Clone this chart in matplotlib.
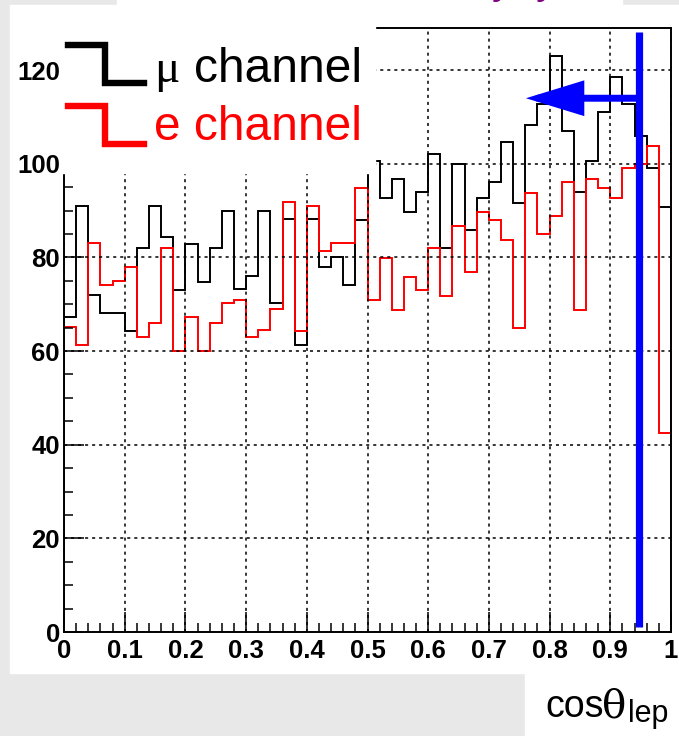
import numpy as np
import matplotlib.pyplot as plt
from matplotlib.lines import Line2D
from matplotlib.patches import Rectangle
from matplotlib.ticker import MultipleLocator

W, H = 679, 736

# cos(theta_lep) histograms, 50 bins between 0 and 1
edges = np.linspace(0, 1, 51)
mu_counts = [67.2, 91.0, 72.0, 68.2, 68.2, 64.3, 82.1, 91.0, 84.3, 73.1,
             82.9, 74.8, 82.1, 89.9, 73.3, 76.1, 89.9, 70.2, 88.2, 61.2,
             88.2, 77.9, 80.0, 74.1, 88.0, 100.6, 92.6, 96.8, 89.6, 94.0,
             102.1, 82.1, 100.0, 85.8, 92.6, 96.1, 104.6, 91.7, 108.2, 112.8,
             123.0, 106.9, 93.9, 100.7, 111.0, 118.6, 112.8, 106.0, 99.1, 90.8]
e_counts = [65.1, 61.3, 83.0, 74.1, 74.9, 77.9, 63.0, 66.0, 82.1, 60.1,
            67.2, 60.1, 66.0, 70.3, 71.0, 63.0, 64.4, 69.0, 91.9, 64.3,
            91.0, 81.4, 83.0, 83.0, 94.9, 71.0, 79.8, 68.8, 75.9, 73.0,
            82.1, 71.8, 86.7, 76.8, 89.6, 87.9, 83.7, 64.9, 93.8, 85.0,
            88.8, 96.1, 68.8, 96.8, 94.8, 92.7, 99.0, 100.0, 103.8, 42.6]

cut_value = 0.947
arrow_tip = 0.761
arrow_level = 114
legend_labels = ["channel", "e channel"]
xtick_labels = ["0", "0.1", "0.2", "0.3", "0.4", "0.5", "0.6", "0.7", "0.8", "0.9", "1"]


def fx(px):
    return px / W


def fy(py):
    return 1 - py / H


fig = plt.figure(figsize=(W / 100, H / 100), dpi=100, facecolor="#e8e8e8")

# slide panels
fig.add_artist(Rectangle((fx(10), fy(673)), fx(669), 668 / H, color="white", zorder=-2))
fig.add_artist(Rectangle((fx(117), fy(6)), fx(505), 6 / H, color="white", zorder=-2))
fig.add_artist(Rectangle((fx(525), fy(736)), fx(154), 63 / H, color="white", zorder=-2))
fig.text(fx(492), fy(-7), "y  y", color="#800080", fontsize=30,
         family="Liberation Sans", va="baseline")

ax = fig.add_axes([fx(64), fy(632), 607 / W, 604 / H])
ax.set_facecolor("white")

ax.stairs(mu_counts, edges, color="black", lw=1.4, baseline=0)
ax.stairs(e_counts, edges, color="red", lw=1.4, baseline=0)

ax.plot([cut_value, cut_value], [1.1, 128.2], color="blue", lw=5.2,
        solid_capstyle="butt", zorder=5)
ax.annotate("", xy=(arrow_tip, arrow_level), xytext=(cut_value, arrow_level),
            arrowprops=dict(arrowstyle="-|>,head_length=31,head_width=9.5",
                            mutation_scale=1, color="blue", lw=5,
                            shrinkA=0, shrinkB=0, joinstyle="miter"),
            zorder=5)

ax.set_xlim(0, 1)
ax.set_ylim(0, 129)
ax.xaxis.set_minor_locator(MultipleLocator(0.02))
ax.yaxis.set_major_locator(MultipleLocator(20))
ax.yaxis.set_minor_locator(MultipleLocator(5))
ax.set_xticks(np.arange(0, 1.01, 0.1))
ax.set_xticklabels(xtick_labels)
ax.tick_params(which="major", direction="in", length=14.5, width=1.1, color="black")
ax.tick_params(which="minor", direction="in", length=6.5, width=1.1, color="black")
ax.tick_params(axis="x", pad=5)
ax.tick_params(axis="y", pad=3)
for lab in ax.get_xticklabels() + ax.get_yticklabels():
    lab.set_family("Liberation Sans")
    lab.set_fontweight("bold")
    lab.set_fontsize(18.5)
ax.grid(True, which="major", color="black", lw=1.1, ls=(0, (2, 2.6)))
for s in ax.spines.values():
    s.set_linewidth(1.4)

# legend sits on a white patch over the top-left corner of the frame
fig.add_artist(Rectangle((fx(62), fy(173)), fx(313), 150 / H, color="white", zorder=3))
fig.add_artist(Line2D([fx(68), fx(105), fx(105), fx(144)], [fy(45), fy(45), fy(83), fy(83)],
                      color="black", lw=4.6, solid_joinstyle="miter", zorder=4))
fig.add_artist(Line2D([fx(68), fx(105), fx(105), fx(144)], [fy(106), fy(106), fy(144), fy(144)],
                      color="red", lw=4.6, solid_joinstyle="miter", zorder=4))
fig.text(fx(154), fy(82), "\u03bc", fontsize=34, family="Liberation Serif",
         color="black", va="baseline", zorder=4)
fig.text(fx(194), fy(82), legend_labels[0], fontsize=34.5, family="Liberation Sans",
         color="black", va="baseline", zorder=4)
fig.text(fx(154), fy(140), legend_labels[1], fontsize=34.5, family="Liberation Sans",
         color="red", va="baseline", zorder=4)

# axis title in the lower right
fig.text(fx(545), fy(717), "cos", fontsize=27, family="Liberation Sans", va="baseline")
fig.text(fx(602), fy(717), "\u03b8", fontsize=29, family="DejaVu Serif", va="baseline")
fig.text(fx(628), fy(722), "lep", fontsize=22, family="Liberation Sans", va="baseline")

fig.savefig("out.png", dpi=100, facecolor=fig.get_facecolor())
